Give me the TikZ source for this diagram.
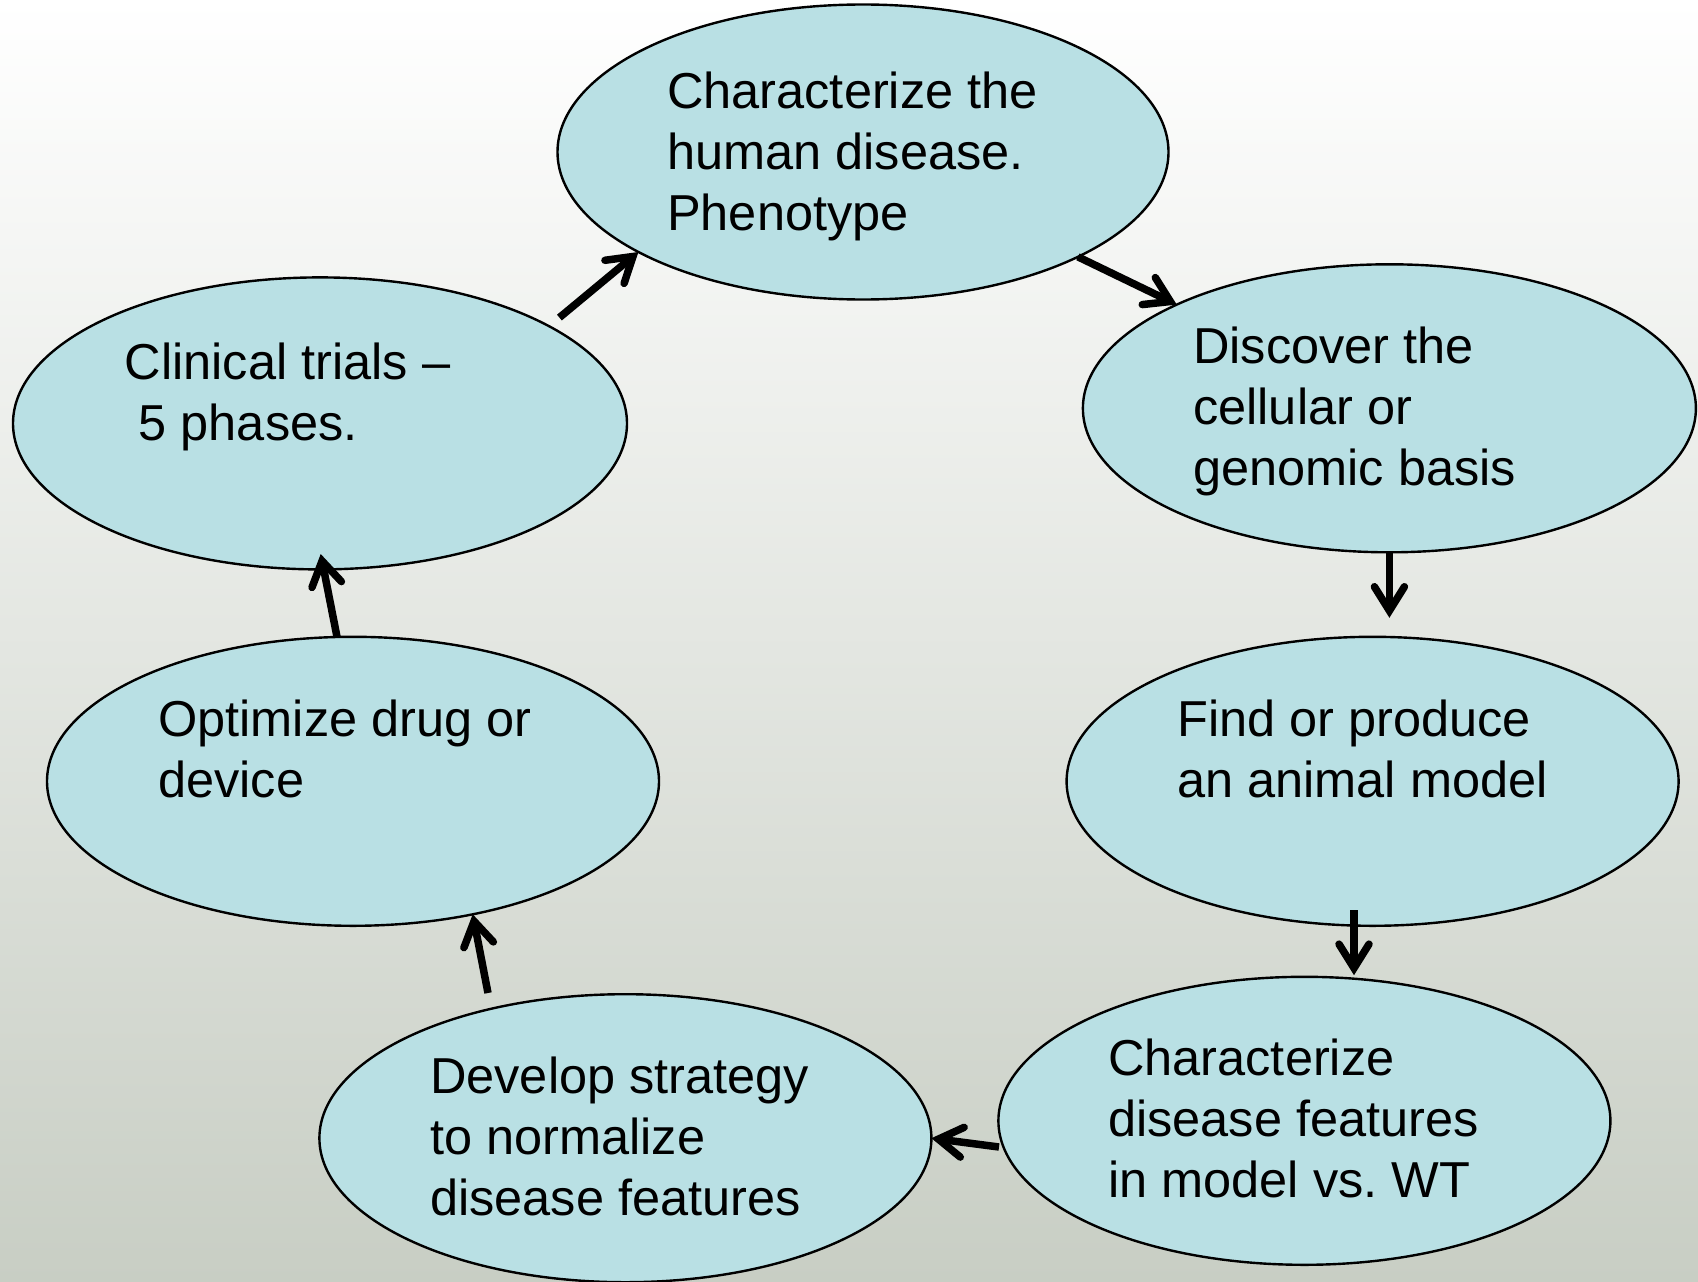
\documentclass[tikz,border=0pt]{standalone}
\usepackage{fontspec}
\setmainfont{Liberation Sans}
\usetikzlibrary{arrows.meta,shapes.geometric,calc}
\definecolor{ellfill}{RGB}{185,224,228}
\definecolor{bgbot}{RGB}{200,206,196}
\definecolor{bgmid}{RGB}{232,235,230}
\frenchspacing
\begin{document}
\begin{tikzpicture}[x=1pt,y=-1pt,
  ell/.style={ellipse, draw=black, line width=2.4pt, fill=ellfill, inner sep=0pt, outer sep=0pt},
  lbl/.style={anchor=base west, align=left, inner sep=0pt, font=\fontsize{50.5}{61}\selectfont},
  arr/.style={line width=7.5pt, -{Straight Barb[length=24pt,width=30pt,line cap=round,line join=miter]}}]
\useasboundingbox (0,0) rectangle (1698,1282);
\shade[top color=white, middle color=bgmid, bottom color=bgbot] (0,0) rectangle (1698,1282);
% ellipses
\node[ell, minimum width=611pt, minimum height=295pt] (e1) at (863,152) {};
\node[ell, minimum width=613pt, minimum height=288pt] (e2) at (1389.4,408.3) {};
\node[ell, minimum width=612pt, minimum height=289pt] (e3) at (1372.6,781.3) {};
\node[ell, minimum width=612pt, minimum height=288pt] (e4) at (1304.4,1120.8) {};
\node[ell, minimum width=612pt, minimum height=288pt] (e5) at (625.4,1138.2) {};
\node[ell, minimum width=612pt, minimum height=289pt] (e6) at (353,781.3) {};
\node[ell, minimum width=614pt, minimum height=292pt] (e7) at (320,423.4) {};
% texts (anchor = baseline of last line)
\node[lbl] (t1) at (667,230) {Characterize the\\human disease.\\Phenotype};
\node[lbl] (t2) at (1193,485) {Discover the\\cellular or\\genomic basis};
\node[lbl] (t3) at (1177,797) {Find or produce\\an animal model};
\node[lbl] (t4) at (1108,1197) {Characterize\\disease features\\in model vs. WT};
\node[lbl] (t5) at (430,1215) {Develop strategy\\to normalize\\disease features};
\node[lbl] (t6) at (158,797) {Optimize drug or\\device};
\node[lbl] (t7) at (124.5,440) {Clinical trials –\\\hspace*{0.278em}5 phases.};
% arrows
\draw[arr, shorten <=13.5pt] (e7.23.5) -- (e1.204);
\draw[arr] (e1.334.2) -- (e2.154.9);
\draw[arr, shorten >=19pt] (e2.south) -- (e2.south |- e3.north);
\draw[arr] (e3.south) ++(-18.6,-15.6) -- ++(0,65);
\draw[arr] (e4.west) ++(0.6,26.2) -- (e5.east);
\draw[arr] (e5.north) ++(-137.4,-1.2) -- (e6.312.6);
\draw[arr] (e6.north) ++(-16,0) -- ($(e7.south)+(0.7,-15.4)$);
\end{tikzpicture}
\end{document}
